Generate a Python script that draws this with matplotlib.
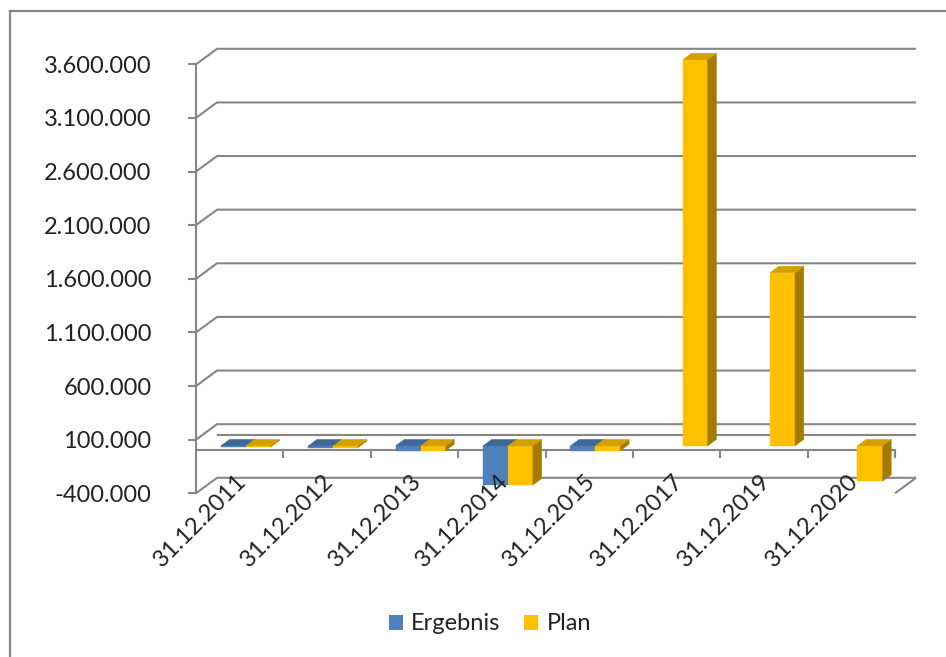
import matplotlib
matplotlib.use("Agg")
import matplotlib.pyplot as plt
import matplotlib.markers as mmarkers
from matplotlib.patches import Patch, Polygon
from matplotlib.lines import Line2D
import numpy as np

# ---- data -------------------------------------------------------------
categories = ["31.12.2011", "31.12.2012", "31.12.2013", "31.12.2014",
              "31.12.2015", "31.12.2017", "31.12.2019", "31.12.2020"]
ergebnis = [-10000, -15000, -45000, -365000, -45000, np.nan, np.nan, np.nan]
plan = [-10000, -15000, -45000, -365000, -45000, 3600000, 1615000, -330000]
y_ticks = [-400000, 100000, 600000, 1100000, 1600000, 2100000, 2600000,
           3100000, 3600000]
series_names = ["Ergebnis", "Plan"]

# ---- style ------------------------------------------------------------
FONT = "Lato"
GRID = "#868686"
TEXT = "#222222"
colors = {
    "Ergebnis": {"front": "#4F81BD", "top": "#3D6899", "side": "#36597F"},
    "Plan": {"front": "#FFC000", "top": "#D4A000", "side": "#A47A00"},
}

W, H = 946, 657
fig = plt.figure(figsize=(W / 100, H / 100), dpi=100)
fig.patch.set_facecolor("white")

ax = fig.add_axes([196 / W, (H - 493.3) / H, 699 / W, (493.3 - 64.3) / H])
ymin, ymax = y_ticks[0], y_ticks[-1]
ncat = len(categories)
ax.set_xlim(0, ncat)
ax.set_ylim(ymin, ymax)
ax.set_facecolor("none")

# depth direction of the 3-D box expressed in data units
px_x = ncat / (699.0)
px_y = (ymax - ymin) / (493.3 - 64.3)
DX = 21.0 * px_x
DY = 15.5 * px_y


def proj(x, v, d):
    """Point at category position x, value v and depth d (0 front, 1 back)."""
    return (x + DX * d, v + DY * d)


def line3d(points, **kw):
    xs, ys = zip(*[proj(*p) for p in points])
    ax.plot(xs, ys, color=GRID, lw=1.5, clip_on=False,
            solid_capstyle="butt", **kw)


# walls: gridlines on side wall and back wall
for v in y_ticks:
    line3d([(0, v, 0), (0, v, 1), (ncat, v, 1)], zorder=1)
# floor edge on the right
line3d([(ncat, ymin, 1), (ncat, ymin, 0)], zorder=1)

# category axis plane at zero
line3d([(0, 0, 1), (ncat, 0, 1)], zorder=1)
ax.plot([0, ncat], [0, 0], color=GRID, lw=1.5, zorder=1, clip_on=False)
ax.plot(np.arange(1, ncat + 1), np.zeros(ncat), ls="none",
        marker=mmarkers.TICKDOWN, markersize=5.5, markeredgewidth=1.5,
        color=GRID, zorder=1, clip_on=False)

# bars
bar_w = 1 / 3.5
d0, d1 = 0.29, 0.71


def face(pts, color):
    poly = Polygon([proj(*p) for p in pts], closed=True, facecolor=color,
                   edgecolor=color, lw=0.3, clip_on=False, zorder=3)
    ax.add_patch(poly)


for i in range(ncat):
    for s, (name, vals) in enumerate(zip(series_names, [ergebnis, plan])):
        v = vals[i]
        if v is None or np.isnan(v):
            continue
        x0 = i + 0.5 - bar_w + s * bar_w
        x1 = x0 + bar_w
        top = max(v, 0)
        bot = min(v, 0)
        c = colors[name]
        # front
        face([(x0, bot, d0), (x1, bot, d0), (x1, top, d0), (x0, top, d0)],
             c["front"])
        # right side
        face([(x1, bot, d0), (x1, bot, d1), (x1, top, d1), (x1, top, d0)],
             c["side"])
        # top
        face([(x0, top, d0), (x1, top, d0), (x1, top, d1), (x0, top, d1)],
             c["top"])

# value axis
for side in ["top", "right", "bottom"]:
    ax.spines[side].set_visible(False)
ax.spines["left"].set_color(GRID)
ax.spines["left"].set_linewidth(1.5)
ax.set_yticks(y_ticks)
ax.set_yticklabels([f"{v:,.0f}".replace(",", ".") for v in y_ticks],
                   fontfamily=FONT, fontsize=17, color=TEXT)
ax.tick_params(axis="y", length=6, width=1.5, color=GRID, pad=26)
ax.set_xticks([])

# category labels
for i, lab in enumerate(categories):
    ax.annotate(lab, xy=(i + 0.5, ymin), xycoords="data",
                xytext=(-3.0, 16.5), textcoords="offset points",
                rotation=45, ha="right", va="top", rotation_mode="anchor",
                fontfamily=FONT, fontsize=17, color=TEXT,
                annotation_clip=False)

# legend
handles = [Patch(facecolor=colors[n]["front"], edgecolor="none")
           for n in series_names]
fig.legend(handles, series_names, loc="center", ncol=2, frameon=False,
           bbox_to_anchor=(490 / W, 1 - 624 / H),
           prop={"family": FONT, "size": 17}, labelcolor=TEXT,
           handlelength=0.6, handleheight=0.6, handletextpad=0.35,
           columnspacing=1.0, borderpad=0)

# chart frame
fig.add_artist(Line2D([10 / W, 10 / W], [0, 1 - 11 / H], color=GRID,
                      lw=1.6, transform=fig.transFigure))
fig.add_artist(Line2D([10 / W, 1], [1 - 11 / H, 1 - 11 / H], color=GRID,
                      lw=1.6, transform=fig.transFigure))

fig.savefig("out.png", dpi=100, facecolor="white")
